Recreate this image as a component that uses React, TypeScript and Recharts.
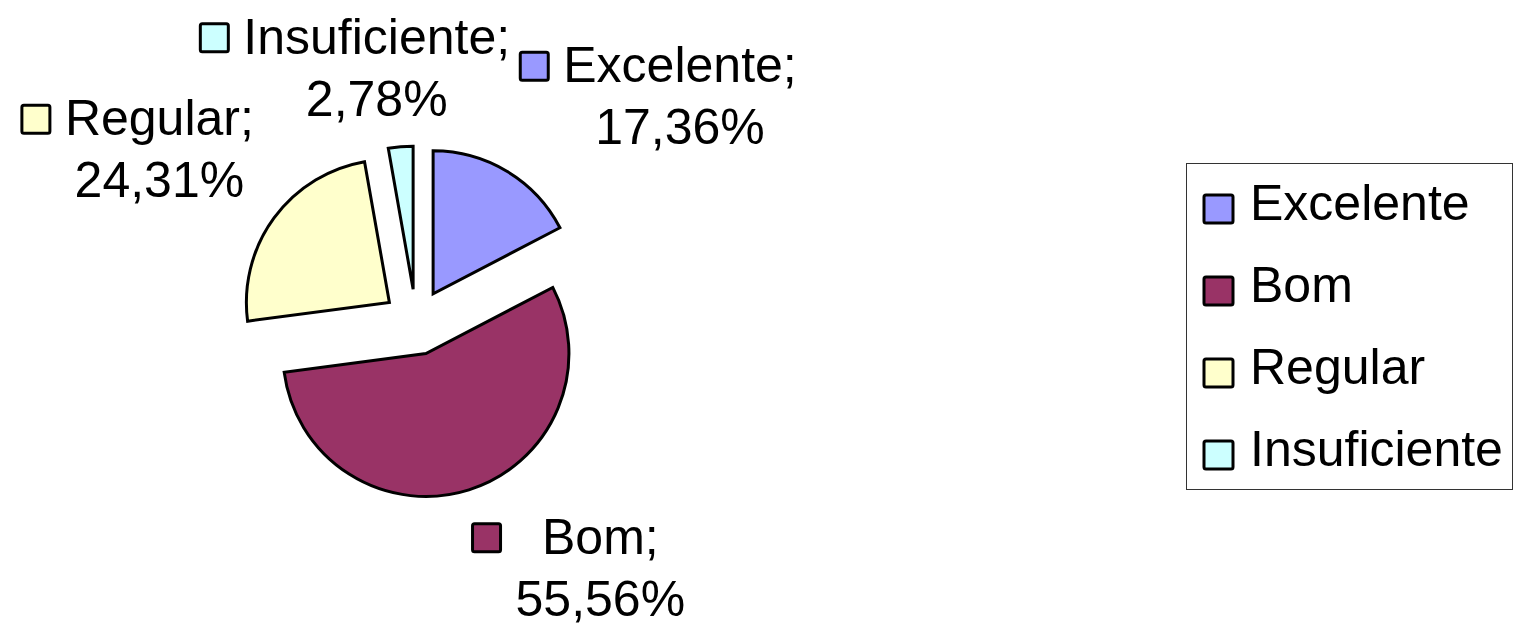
import React from 'react';
import { PieChart, Pie, Cell, Legend } from 'recharts';

const categories = ['Excelente', 'Bom', 'Regular', 'Insuficiente'];
const percentages = [17.36, 55.56, 24.31, 2.78];
const colors = ['#9999FF', '#993366', '#FFFFCC', '#CCFFFF'];

const data = categories.map((name, i) => ({ name, value: percentages[i] }));

const FONT = "'Liberation Sans', Arial, sans-serif";
const FONT_SIZE = 50;
const EXPLODE = 33;
const RAD = Math.PI / 180;

const fmt = (v: number) => v.toFixed(2).replace('.', ',') + '%';

let ctx: CanvasRenderingContext2D | null = null;
function measure(text: string) {
  if (!ctx) {
    const c = document.createElement('canvas');
    ctx = c.getContext('2d');
  }
  if (!ctx) return text.length * FONT_SIZE * 0.55;
  ctx.font = `${FONT_SIZE}px ${FONT}`;
  return ctx.measureText(text).width;
}

// mid angle of each slice (recharts convention, clockwise from 12 o'clock)
const total = percentages.reduce((a, b) => a + b, 0);
const midAngles: number[] = [];
{
  let cum = 0;
  percentages.forEach((v) => {
    midAngles.push(90 - ((cum + v / 2) / total) * 360);
    cum += v;
  });
}

const clamp = (v: number) => Math.max(0, Math.min(1, v));

function renderLabel(props: any) {
  const { cx, cy, midAngle, outerRadius, index } = props;
  const name = categories[index];
  const value = percentages[index];
  const dx = Math.cos(midAngle * RAD);
  const dy = -Math.sin(midAngle * RAD);
  const r = outerRadius + 58;
  const px = cx + dx * r;
  const py = cy + dy * r;

  const line1 = `${name};`;
  const line2 = fmt(value);
  const blockW = Math.max(measure(line1), measure(line2));
  const sq = 28;
  const gap = 15;
  const w = sq + gap + blockW;
  const h = 108;
  const f = clamp(0.5 - 1.6 * dx);
  const g = clamp(0.5 - 1.6 * dy);
  const left = px - f * w;
  const top = py - g * h;
  const base1 = top + 40;
  const base2 = base1 + 62;
  const textX = left + sq + gap + blockW / 2;

  return (
    <g key={`lbl-${index}`}>
      <rect x={left} y={base1 - 30} width={sq} height={sq} rx={2} fill={colors[index]} stroke="#000" strokeWidth={3} />
      <text x={textX} y={base1} textAnchor="middle" fontFamily={FONT} fontSize={FONT_SIZE} fill="#000">
        {line1}
      </text>
      <text x={textX} y={base2} textAnchor="middle" fontFamily={FONT} fontSize={FONT_SIZE} fill="#000">
        {line2}
      </text>
    </g>
  );
}

function renderLegend() {
  return (
    <svg width={327} height={327} style={{ display: 'block' }}>
      <rect x={0.5} y={0.5} width={326} height={326} fill="#fff" stroke="#333" strokeWidth={1} />
      {categories.map((name, i) => (
        <g key={`leg-${i}`}>
          <rect x={18} y={32 + i * 82} width={29} height={28} rx={2} fill={colors[i]} stroke="#000" strokeWidth={3} />
          <text x={64} y={57 + i * 82} fontFamily={FONT} fontSize={FONT_SIZE} fill="#000">
            {name}
          </text>
        </g>
      ))}
    </svg>
  );
}

export default function App() {
  return (
    <div style={{ position: 'absolute', left: 0, top: 0, width: 1515, height: 629, background: '#fff' }}>
      <PieChart width={1515} height={629} margin={{ top: 0, right: 0, bottom: 0, left: 0 }}>
        <Pie
          data={data}
          dataKey="value"
          nameKey="name"
          cx={416}
          cy={322}
          outerRadius={143}
          startAngle={90}
          endAngle={-270}
          stroke="#000"
          strokeWidth={3}
          labelLine={false}
          label={renderLabel}
          isAnimationActive={false}
        >
          {data.map((entry, index) => {
            const a = midAngles[index] * RAD;
            return (
              <Cell
                key={`cell-${index}`}
                fill={colors[index]}
                transform={`translate(${Math.cos(a) * EXPLODE}, ${-Math.sin(a) * EXPLODE})`}
              />
            );
          })}
        </Pie>
        <Legend
          layout="vertical"
          align="right"
          verticalAlign="top"
          content={renderLegend}
          wrapperStyle={{ position: 'absolute', left: 1186, top: 163, width: 327, height: 327 }}
        />
      </PieChart>
    </div>
  );
}
